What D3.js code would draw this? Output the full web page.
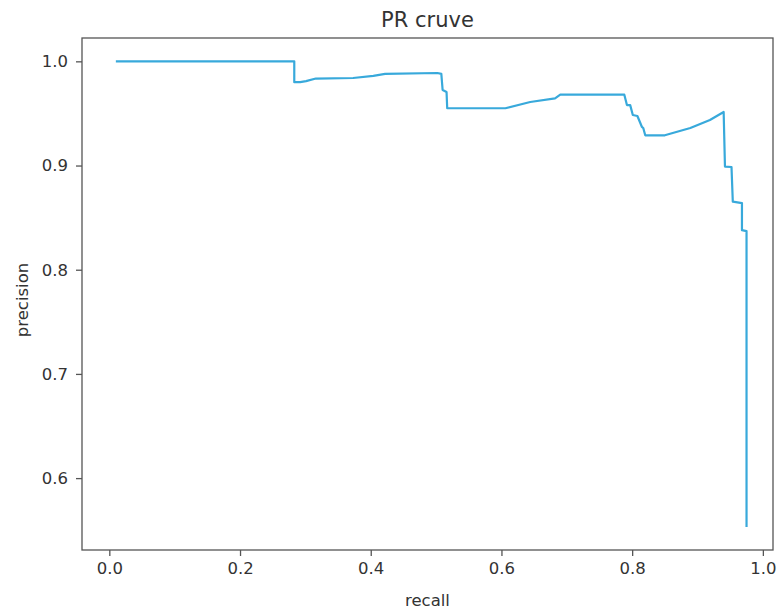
<!DOCTYPE html>
<html>
<head>
<meta charset="utf-8">
<script src="https://cdn.jsdelivr.net/npm/d3@7"></script>
<style>
  body { margin: 0; background: #fff; }
  svg text { font-family: "DejaVu Sans", sans-serif; fill: #333; }
</style>
</head>
<body>
<svg id="chart" width="780" height="611"></svg>
<script>
// PR curve points
var recall = [0.010, 0.283, 0.283, 0.292, 0.301, 0.316, 0.373, 0.404, 0.422, 0.502, 0.508, 0.510, 0.516, 0.517,
  0.606, 0.644, 0.682, 0.690, 0.788, 0.792, 0.797, 0.801, 0.808, 0.815, 0.817, 0.820, 0.850, 0.889, 0.919,
  0.940, 0.942, 0.952, 0.954, 0.968, 0.968, 0.975, 0.975];
var precision = [1.000, 1.000, 0.980, 0.980, 0.981, 0.9835, 0.984, 0.986, 0.988, 0.9888, 0.988, 0.9725, 0.9706, 0.955,
  0.955, 0.961, 0.9645, 0.968, 0.968, 0.958, 0.958, 0.9485, 0.9475, 0.937, 0.936, 0.929, 0.929, 0.936, 0.9437,
  0.9514, 0.899, 0.8986, 0.8653, 0.864, 0.838, 0.837, 0.553];
var xTicks = [0.0, 0.2, 0.4, 0.6, 0.8, 1.0];
var yTicks = [0.6, 0.7, 0.8, 0.9, 1.0];

var margin = {left: 82, top: 38, right: 7, bottom: 61};
var width = 780 - margin.left - margin.right;
var height = 611 - margin.top - margin.bottom;

var svg = d3.select("#chart");
var g = svg.append("g").attr("transform", "translate(" + margin.left + "," + margin.top + ")");

var x = d3.scaleLinear().domain([-0.0418, 1.0155]).range([0, width]);
var y = d3.scaleLinear().domain([0.531, 1.0224]).range([height, 0]);

var pts = recall.map(function(r, i){ return [r, precision[i]]; });

g.append("path")
  .datum(pts)
  .attr("fill", "none")
  .attr("stroke", "#38a9db")
  .attr("stroke-width", 2.2)
  .attr("stroke-linejoin", "round")
  .attr("d", d3.line().x(function(d){ return x(d[0]); }).y(function(d){ return y(d[1]); }));

// frame
g.append("rect")
  .attr("width", width).attr("height", height)
  .attr("fill", "none").attr("stroke", "#555").attr("stroke-width", 1.3);

var xAxis = g.append("g").attr("transform", "translate(0," + height + ")")
  .call(d3.axisBottom(x).tickValues(xTicks).tickFormat(d3.format(".1f")).tickSize(6).tickPadding(6));
var yAxis = g.append("g")
  .call(d3.axisLeft(y).tickValues(yTicks).tickFormat(d3.format(".1f")).tickSize(6).tickPadding(8));
[xAxis, yAxis].forEach(function(a){
  a.select(".domain").remove();
  a.selectAll("line").attr("stroke", "#555").attr("stroke-width", 1.3);
  a.selectAll("text").style("font-size", "16.5px").style("font-family", "DejaVu Sans").attr("fill", "#444");
});

svg.append("text")
  .attr("x", margin.left + width / 2).attr("y", 27)
  .attr("text-anchor", "middle").style("font-size", "21px")
  .text("PR cruve");

svg.append("text")
  .attr("x", margin.left + width / 2).attr("y", 606)
  .attr("text-anchor", "middle").style("font-size", "16.5px")
  .text("recall");

svg.append("text")
  .attr("transform", "translate(28," + (margin.top + height / 2 + 6) + ") rotate(-90)")
  .attr("text-anchor", "middle").style("font-size", "16.5px")
  .text("precision");
</script>
</body>
</html>
